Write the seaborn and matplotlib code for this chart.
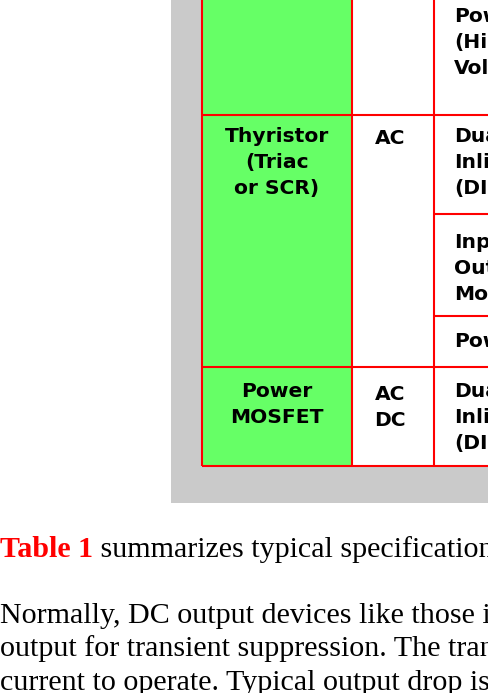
import matplotlib

matplotlib.use("Agg")

import matplotlib.pyplot as plt
import seaborn as sns
from matplotlib.patches import Rectangle

# table content (one entry per row: top row is cut off, then Thyristor, Power MOSFET)
devices = [[], ["Thyristor", "(Triac", "or SCR)"], ["Power", "MOSFET"]]
currents = [[], ["AC"], ["AC", "DC"]]
packages = [
    [["Power", "(High", "Voltage)"]],
    [["Dual", "Inline", "(DIP)"], ["Input/", "Output", "Module"], ["Power"]],
    [["Dual", "Inline", "(DIP)"]],
]

caption_ref = "Table 1"
caption_rest = " summarizes typical specifications for each type of output device."
body_lines = [
    "Normally, DC output devices like those in Figure 3 include a diode across the",
    "output for transient suppression. The transistor requires a small amount of",
    "current to operate. Typical output drop is about 1.5 volts.",
]

# layout in screen pixels
W, H = 489, 693
col_edges = [202, 352, 434, W]
row_edges = [0, 115, 367, 466]
sub_edges = [[0, 115], [115, 214, 316, 367], [367, 466]]
first_base = [[22], [142, 248, 347], [397]]
dev_base = [None, 142, 397]
cur_base = [None, 144, 400]
line_gap = 26

GREEN = "#66FF66"
RED = "#FF0000"
GRAY = "#CACACA"

sns.set_theme(style="white")
fig = plt.figure(figsize=(W / 100, H / 100), dpi=100)
ax = fig.add_axes([0, 0, 1, 1])
ax.set_xlim(0, W)
ax.set_ylim(H, 0)
ax.axis("off")

# grey page panel and cells
ax.add_patch(Rectangle((171, 0), W - 171, 503, color=GRAY, lw=0))
ax.add_patch(Rectangle((col_edges[0], 0), col_edges[1] - col_edges[0], row_edges[-1], color=GREEN, lw=0))
ax.add_patch(Rectangle((col_edges[1], 0), W - col_edges[1], row_edges[-1], color="white", lw=0))

# red grid
lw = 1.5
ax.vlines(col_edges[:3], 0, row_edges[-1], color=RED, lw=lw)
ax.hlines(row_edges[1:], col_edges[0], W, color=RED, lw=lw)
for edges in sub_edges:
    ax.hlines(edges[1:-1], col_edges[2], W, color=RED, lw=lw)

cell_font = dict(family="DejaVu Sans", weight="heavy", size=14.6, color="black", clip_on=True)
cx1 = (col_edges[0] + col_edges[1]) / 2
cx2 = (col_edges[1] + col_edges[2]) / 2 - 3
for r in range(len(devices)):
    for i, line in enumerate(devices[r]):
        ax.text(cx1, dev_base[r] + i * line_gap, line, ha="center", va="baseline", **cell_font)
    for i, line in enumerate(currents[r]):
        ax.text(cx2, cur_base[r] + i * line_gap, line, ha="center", va="baseline", **cell_font)
    for s, lines in enumerate(packages[r]):
        for i, line in enumerate(lines):
            ax.text(col_edges[2] + 20, first_base[r][s] + i * line_gap, line,
                    ha="left", va="baseline", **cell_font)

# paragraph text under the table
serif = dict(family="Liberation Serif", size=21.6, clip_on=True)
t = ax.text(0, 557, caption_ref, color=RED, weight="bold", ha="left", va="baseline", **serif)
ax.annotate(caption_rest, xy=(1, 0), xycoords=t, ha="left", va="bottom",
            color="black", annotation_clip=False, **serif)
for i, line in enumerate(body_lines):
    ax.text(0, 623 + i * 33.5, line, color="black", ha="left", va="baseline", **serif)

fig.savefig("out.png", dpi=100, facecolor="white")
